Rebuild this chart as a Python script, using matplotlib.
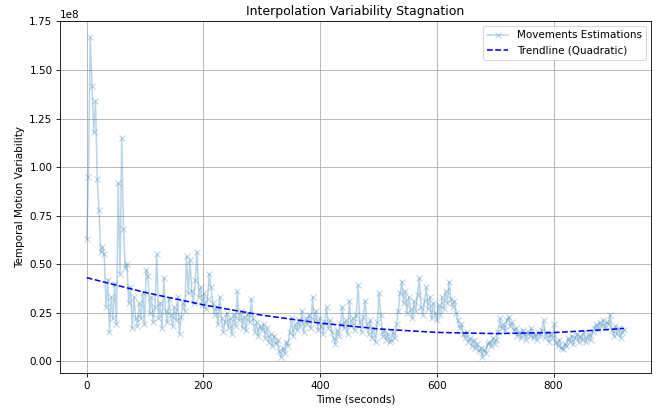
import numpy as np
import matplotlib
matplotlib.use("Agg")
import matplotlib.pyplot as plt

# sample times (seconds), one reading every 3 s
time_s = np.arange(0, 922, 3)

# movement estimates, in units of 1e8
movement_1e8 = [
    0.63, 0.95, 1.67, 1.42, 1.18, 1.34, 0.94, 0.78, 0.56, 0.59,
    0.55, 0.28, 0.42, 0.15, 0.33, 0.22, 0.40, 0.19, 0.92, 0.45,
    1.15, 0.68, 0.48, 0.50, 0.30, 0.38, 0.17, 0.33, 0.22, 0.18,
    0.30, 0.22, 0.35, 0.19, 0.47, 0.44, 0.25, 0.33, 0.20, 0.28,
    0.55, 0.22, 0.30, 0.17, 0.43, 0.26, 0.20, 0.32, 0.24, 0.18,
    0.28, 0.21, 0.33, 0.14, 0.23, 0.30, 0.26, 0.54, 0.35, 0.52,
    0.36, 0.30, 0.42, 0.56, 0.33, 0.38, 0.29, 0.35, 0.27, 0.32,
    0.45, 0.38, 0.30, 0.24, 0.28, 0.19, 0.33, 0.22, 0.15, 0.20,
    0.25, 0.17, 0.22, 0.14, 0.24, 0.18, 0.36, 0.21, 0.26, 0.17,
    0.23, 0.16, 0.25, 0.20, 0.32, 0.22, 0.15, 0.20, 0.13, 0.18,
    0.16, 0.19, 0.12, 0.17, 0.10, 0.14, 0.08, 0.13, 0.09, 0.11,
    0.05, 0.02, 0.07, 0.04, 0.10, 0.08, 0.15, 0.22, 0.13, 0.19,
    0.16, 0.21, 0.18, 0.26, 0.15, 0.22, 0.19, 0.24, 0.17, 0.33,
    0.21, 0.26, 0.16, 0.22, 0.18, 0.14, 0.20, 0.28, 0.17, 0.21,
    0.15, 0.12, 0.09, 0.16, 0.13, 0.19, 0.28, 0.17, 0.21, 0.14,
    0.31, 0.18, 0.22, 0.16, 0.24, 0.39, 0.20, 0.15, 0.23, 0.31,
    0.19, 0.14, 0.21, 0.12, 0.17, 0.10, 0.20, 0.35, 0.24, 0.13,
    0.16, 0.11, 0.14, 0.10, 0.11, 0.15, 0.12, 0.19, 0.26, 0.35,
    0.41, 0.30, 0.36, 0.25, 0.33, 0.27, 0.22, 0.31, 0.26, 0.34,
    0.43, 0.28, 0.24, 0.31, 0.38, 0.27, 0.33, 0.22, 0.30, 0.25,
    0.21, 0.29, 0.24, 0.33, 0.27, 0.36, 0.30, 0.41, 0.32, 0.28,
    0.31, 0.25, 0.21, 0.17, 0.19, 0.14, 0.12, 0.15, 0.10, 0.12,
    0.08, 0.11, 0.07, 0.09, 0.05, 0.07, 0.02, 0.06, 0.04, 0.09,
    0.10, 0.08, 0.12, 0.09, 0.11, 0.15, 0.22, 0.17, 0.19, 0.16,
    0.21, 0.23, 0.18, 0.20, 0.16, 0.17, 0.13, 0.15, 0.12, 0.16,
    0.14, 0.11, 0.15, 0.13, 0.17, 0.12, 0.14, 0.11, 0.15, 0.13,
    0.16, 0.21, 0.12, 0.15, 0.10, 0.14, 0.12, 0.19, 0.10, 0.08,
    0.11, 0.07, 0.06, 0.09, 0.08, 0.12, 0.10, 0.13, 0.09, 0.12,
    0.14, 0.10, 0.13, 0.11, 0.15, 0.10, 0.12, 0.14, 0.11, 0.15,
    0.17, 0.19, 0.16, 0.20, 0.18, 0.21, 0.17, 0.20, 0.19, 0.24,
    0.16, 0.13, 0.18, 0.14, 0.17, 0.12, 0.15, 0.16,
]

# quadratic trendline (units of 1e8)
trend_time_s = [0, 100, 200, 300, 400, 500, 600, 700, 800, 900, 921]
trend_1e8 = [0.430, 0.354, 0.290, 0.237, 0.196, 0.166, 0.148, 0.142, 0.147, 0.164, 0.169]

movement = np.array(movement_1e8) * 1e8
trend = np.array(trend_1e8) * 1e8

dpi = 75
fig = plt.figure(figsize=(665 / dpi, 412 / dpi), dpi=dpi)
ax = fig.add_subplot(111)
fig.subplots_adjust(left=0.090, right=0.979, bottom=0.094, top=0.949)

ax.plot(time_s, movement, marker='x', alpha=0.3, label='Movements Estimations')
ax.plot(trend_time_s, trend, 'b--', label='Trendline (Quadratic)')
ax.set_title("Interpolation Variability Stagnation")
ax.set_xlabel("Time (seconds)")
ax.set_ylabel("Temporal Motion Variability")
ax.legend(loc='upper right')
ax.grid(True)

fig.savefig("out.png", dpi=dpi)
